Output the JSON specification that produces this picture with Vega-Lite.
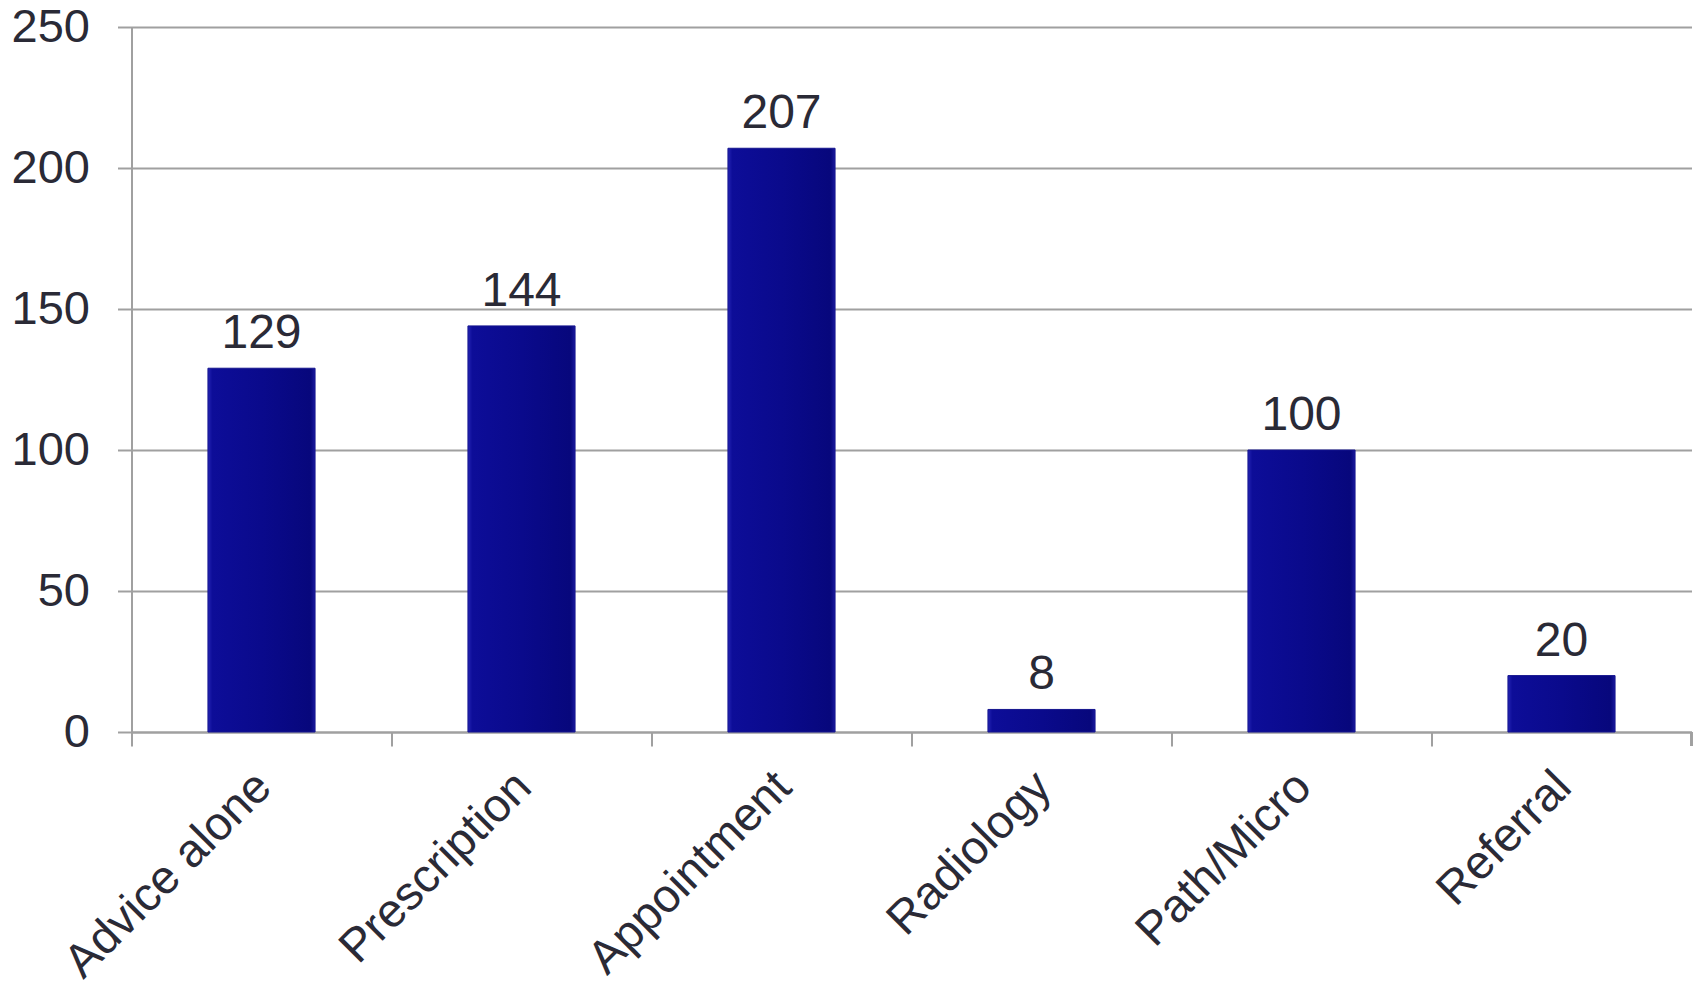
{
  "$schema": "https://vega.github.io/schema/vega-lite/v6.json",
  "width": 1560,
  "height": 705,
  "autosize": {"type": "none"},
  "padding": {"left": 131.5, "top": 27, "right": 4.5, "bottom": 254},
  "background": "white",
  "config": {
    "view": {"stroke": null},
    "font": "Liberation Sans",
    "axis": {"labelFont": "Liberation Sans", "labelColor": "#2a2a36"}
  },
  "data": {
    "values": [
      {"category": "Advice alone", "value": 129},
      {"category": "Prescription", "value": 144},
      {"category": "Appointment", "value": 207},
      {"category": "Radiology", "value": 8},
      {"category": "Path/Micro", "value": 100},
      {"category": "Referral", "value": 20}
    ]
  },
  "encoding": {
    "x": {
      "field": "category",
      "type": "nominal",
      "sort": null,
      "scale": {"paddingInner": 0, "paddingOuter": 0},
      "axis": {
        "title": null,
        "bandPosition": 0,
        "labelOffset": -14,
        "labelAngle": -45,
        "labelFontSize": 47,
        "labelLimit": 2000,
        "labelPadding": 17,
        "labelAlign": "right",
        "labelBaseline": "top",
        "tickSize": 14,
        "tickColor": "#a0a0a0",
        "tickWidth": 2,
        "domainColor": "#a0a0a0",
        "domainWidth": 2,
        "grid": false
      }
    }
  },
  "layer": [
    {
      "mark": {
        "type": "bar",
        "width": {"band": 0.412},
        "color": {
          "gradient": "linear",
          "x1": 0, "x2": 1, "y1": 0, "y2": 0,
          "stops": [
            {"offset": 0, "color": "#2424b4"},
            {"offset": 0.04, "color": "#0d0d98"},
            {"offset": 0.5, "color": "#0a0a8c"},
            {"offset": 0.96, "color": "#07077c"},
            {"offset": 1, "color": "#1a1aa0"}
          ]
        },
        "stroke": "#14148e",
        "strokeWidth": 1
      },
      "encoding": {
        "y": {
          "field": "value",
          "type": "quantitative",
          "scale": {"domain": [0, 250], "nice": false, "zero": true},
          "axis": {
            "title": null,
            "values": [0, 50, 100, 150, 200, 250],
            "labelFontSize": 47,
            "labelPadding": 28,
            "tickSize": 14,
            "tickColor": "#a0a0a0",
            "tickWidth": 2,
            "domainColor": "#a0a0a0",
            "domainWidth": 2,
            "grid": true,
            "gridColor": "#a0a0a0",
            "gridWidth": 2
          }
        }
      }
    },
    {
      "mark": {"type": "text", "fontSize": 48, "dy": -20, "baseline": "alphabetic", "color": "#2a2a36", "font": "Liberation Sans"},
      "encoding": {
        "y": {"field": "value", "type": "quantitative"},
        "text": {"field": "value", "type": "quantitative"}
      }
    },
    {
      "mark": {"type": "rule", "color": "#a0a0a0", "strokeWidth": 2},
      "encoding": {
        "x": {"datum": "Referral", "type": "nominal", "bandPosition": 1},
        "y": {"datum": 0, "type": "quantitative"},
        "y2": {"datum": -4.96}
      }
    }
  ]
}
